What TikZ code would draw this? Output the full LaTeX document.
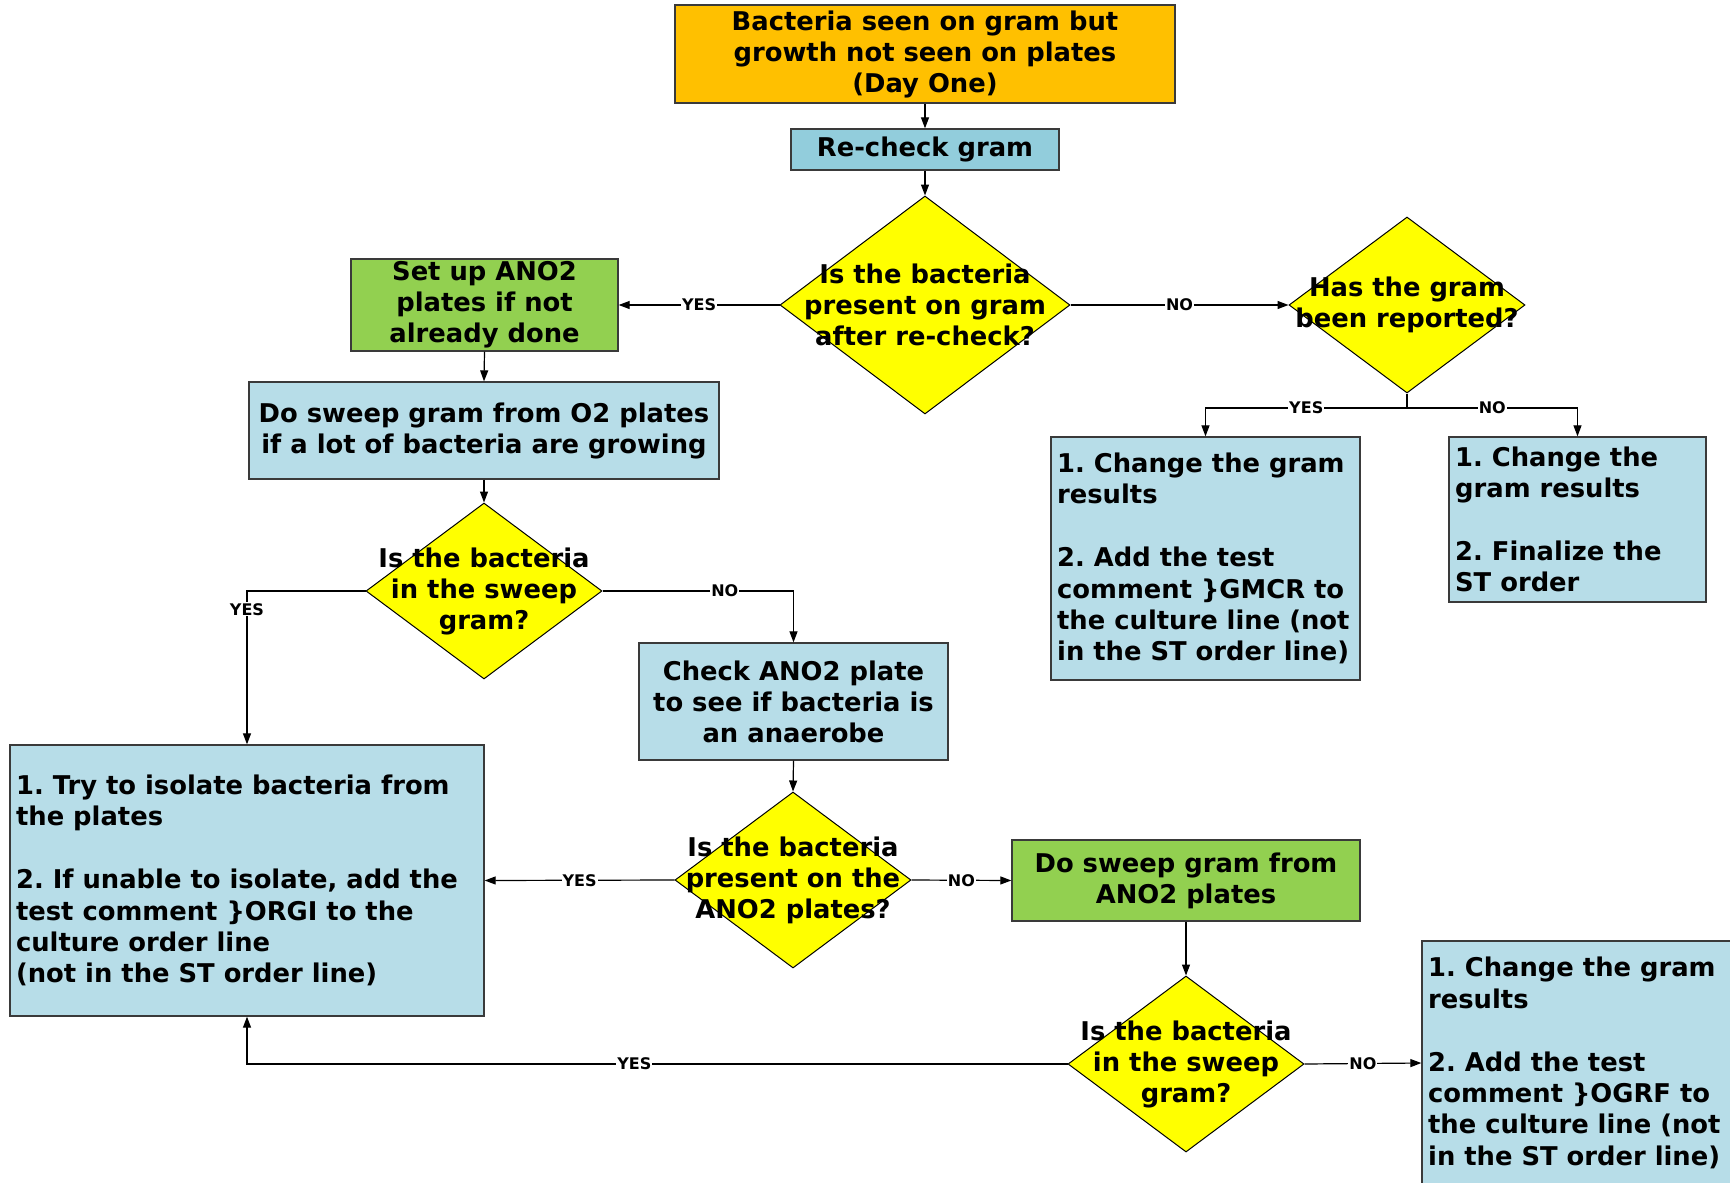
\documentclass[tikz,border=0pt]{standalone}
\usepackage{fontspec}
\setmainfont{DejaVu Sans}
\usetikzlibrary{shapes.geometric,arrows.meta}
\definecolor{orangeF}{HTML}{FFC000}
\definecolor{recheckF}{HTML}{92CDDC}
\definecolor{lblueF}{HTML}{B7DDE8}
\definecolor{greenF}{HTML}{92D050}
\definecolor{yellowF}{HTML}{FFFF00}
\definecolor{edgeC}{HTML}{3A3A3A}
\frenchspacing
\tikzset{
  box/.style={rectangle, draw=edgeC, line width=1.3pt, inner sep=0pt},
  dia/.style={diamond, draw=black, line width=1pt, fill=yellowF, inner sep=0pt},
  txt/.style={font=\bfseries\fontsize{25.8}{31}\selectfont, align=center, inner sep=0pt},
  txtl/.style={font=\bfseries\fontsize{25.8}{31.4}\selectfont, align=left, inner sep=0pt, anchor=west},
  lbl/.style={font=\bfseries\fontsize{16}{18}\selectfont, fill=white, inner sep=1pt},
  conn/.style={draw=black, line width=1.2pt},
  arr/.style={conn, -{Triangle[length=11pt,width=8pt]}}
}
\begin{document}
\begin{tikzpicture}[x=1pt,y=-1pt]
\useasboundingbox[fill=white] (0,0) rectangle (1730,1183);

% boxes
\node[box, fill=orangeF, minimum width=500pt, minimum height=98pt] (top) at (925,54) {};
\node[txt] (topt) at (top) {Bacteria seen on gram but\\growth not seen on plates\\(Day One)};

\node[box, fill=recheckF, minimum width=268pt, minimum height=41pt] (rc) at (925,149.5) {};
\node[txt] (rct) at (rc) {Re-check gram};

\node[dia, minimum width=290pt, minimum height=218pt] (d1) at (925,305) {};
\node[txt] (d1t) at (d1) {Is the bacteria\\present on gram\\after re-check?};

\node[box, fill=greenF, minimum width=267pt, minimum height=92pt] (setup) at (484.5,305) {};
\node[txt] (setupt) at (setup) {Set up ANO2\\plates if not\\already done};

\node[box, fill=lblueF, minimum width=470pt, minimum height=97pt] (swo) at (484,430.5) {};
\node[txt] (swot) at (swo) {Do sweep gram from O2 plates\\if a lot of bacteria are growing};

\node[dia, minimum width=236pt, minimum height=176pt] (d2) at (484,591) {};
\node[txt] (d2t) at (d2) {Is the bacteria\\in the sweep\\gram?};

\node[box, fill=lblueF, minimum width=309pt, minimum height=117pt] (chk) at (793.5,701.5) {};
\node[txt] (chkt) at (chk) {Check ANO2 plate\\to see if bacteria is\\an anaerobe};

\node[box, fill=lblueF, minimum width=474pt, minimum height=271pt] (lb) at (247,880.5) {};
\node[txtl, xshift=6.5pt] (lbt) at (lb.west) {1. Try to isolate bacteria from\\the plates\\[31.4pt]2. If unable to isolate, add the\\test comment \}ORGI to the\\culture order line\\(not in the ST order line)};

\node[dia, minimum width=236pt, minimum height=176pt] (d3) at (793,880) {};
\node[txt] (d3t) at (d3) {Is the bacteria\\present on the\\ANO2 plates?};

\node[box, fill=greenF, minimum width=348pt, minimum height=81pt] (swa) at (1186,880.5) {};
\node[txt] (swat) at (swa) {Do sweep gram from\\ANO2 plates};

\node[dia, minimum width=236pt, minimum height=176pt] (d4) at (1186,1064) {};
\node[txt] (d4t) at (d4) {Is the bacteria\\in the sweep\\gram?};

\node[box, fill=lblueF, minimum width=330pt, minimum height=244pt] (br) at (1587,1063) {};
\node[txtl, xshift=6.6pt] (brt) at (br.west) {1. Change the gram\\results\\[31.4pt]2. Add the test\\comment \}OGRF to\\the culture line (not\\in the ST order line)};

\node[dia, minimum width=236pt, minimum height=176pt] (d5) at (1407,305) {};
\node[txt] (d5t) at (d5) {Has the gram\\been reported?};

\node[box, fill=lblueF, minimum width=309pt, minimum height=243pt] (gm) at (1205.5,558.5) {};
\node[txtl, xshift=6.6pt] (gmt) at (gm.west) {1. Change the gram\\results\\[31.4pt]2. Add the test\\comment \}GMCR to\\the culture line (not\\in the ST order line)};

\node[box, fill=lblueF, minimum width=257pt, minimum height=165pt] (fin) at (1577.5,519.5) {};
\node[txtl, xshift=6.6pt] (fint) at (fin.west) {1. Change the\\gram results\\[31.4pt]2. Finalize the\\ST order};

% connectors
\draw[arr] (top.south) -- (rc.north);
\draw[arr] (rc.south) -- (d1.north);
\draw[arr] (d1.west) -- node[lbl] (l1) {YES} (setup.east);
\draw[arr] (d1.east) -- node[lbl] (l2) {NO} (d5.west);
\draw[arr] (setup.south) -- (swo.north);
\draw[arr] (swo.south) -- (d2.north);
\draw[arr] (d2.west) -| node[lbl, pos=0.56] (l3) {YES} (lb.north);
\draw[arr] (d2.east) -| node[lbl, pos=0.32] (l4) {NO} (chk.north);
\draw[arr] (chk.south) -- (d3.north);
\draw[arr] (d3.west) -- node[lbl] (l5) {YES} (lb.east);
\draw[arr] (d3.east) -- node[lbl] (l6) {NO} (swa.west);
\draw[arr] (swa.south) -- (d4.north);
\draw[arr] (d4.west) -| node[lbl, pos=0.264] (l7) {YES} (lb.south);
\draw[arr] (d4.east) -- node[lbl] (l8) {NO} (br.west);
\coordinate (j5) at (1407,408);
\draw[conn] (d5.south) -- (j5);
\draw[arr] (j5) -| node[lbl, pos=0.25] (l9) {YES} (gm.north);
\draw[arr] (j5) -| node[lbl, pos=0.25] (l10) {NO} (fin.north);
\end{tikzpicture}
\end{document}
